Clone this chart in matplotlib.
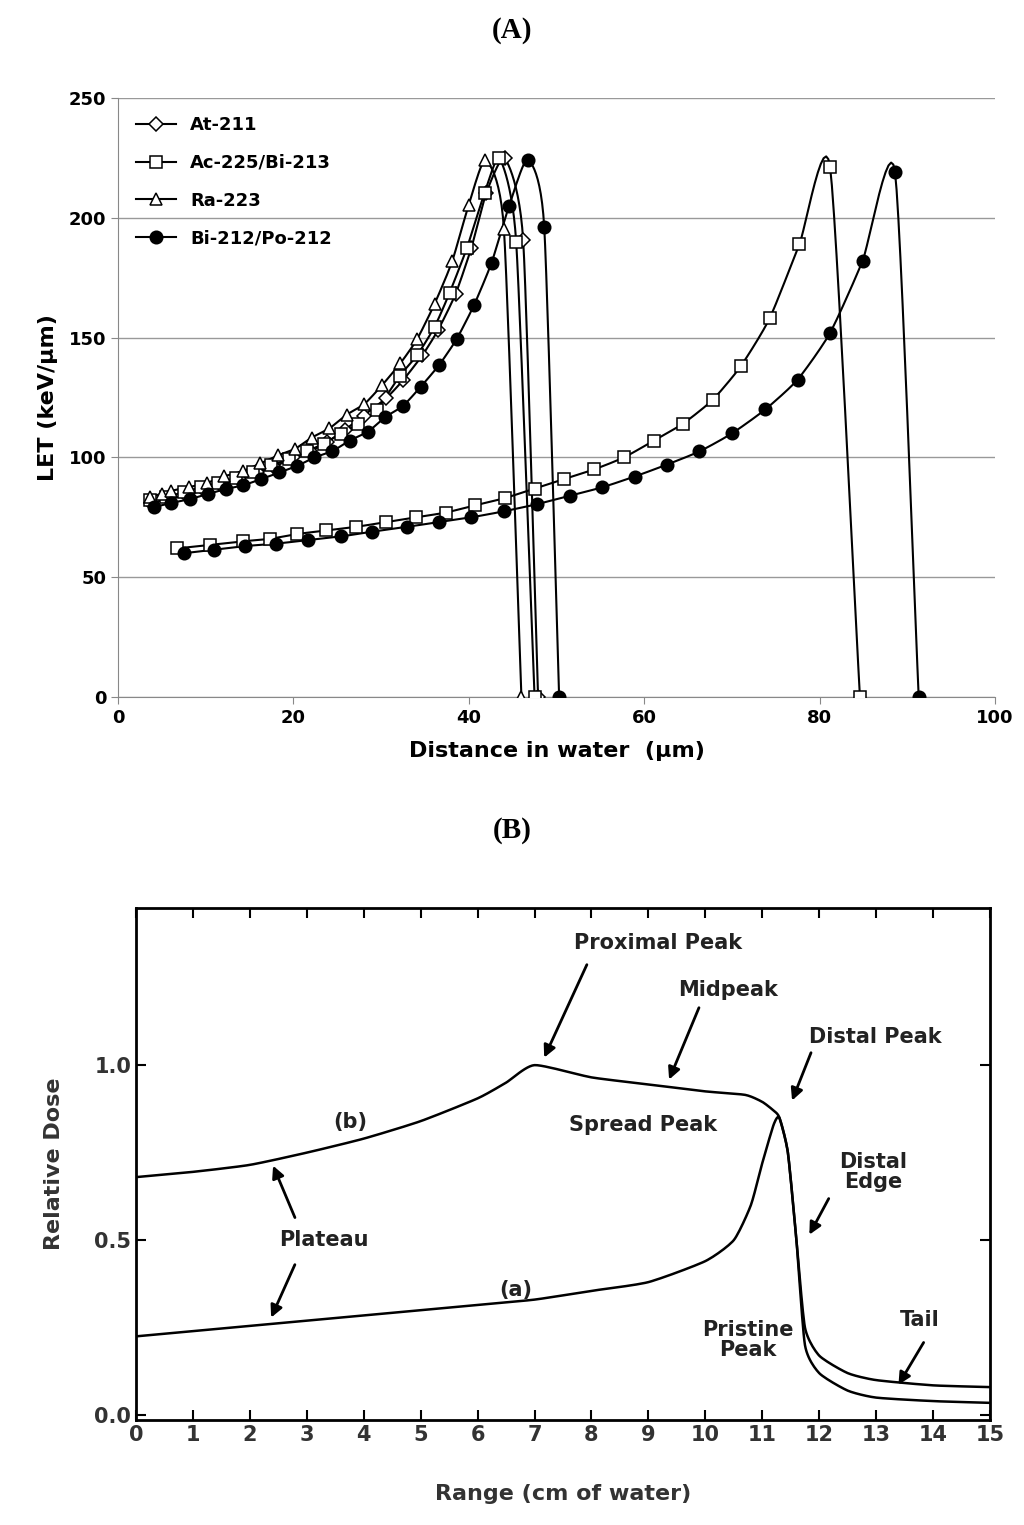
import matplotlib.pyplot as plt
import numpy as np

# ---- panel A data: LET vs distance ----
at_x = [3.8, 5.8, 7.8, 9.8, 11.7, 13.8, 15.8, 17.8, 19.9, 21.9, 23.8, 25.9, 28.0, 30.6, 32.5, 34.7, 36.5, 38.5, 40.3, 42.0, 44.1, 46.2, 47.9]
at_y = [81, 82.6, 84.3, 86.4, 88.4, 90.9, 93.7, 95.9, 100, 102.5, 106.3, 111.6, 117.4, 124.8, 132.2, 142.6, 153.2, 168.3, 187.6, 210.4, 224.8, 190.6, 0]

ac_x = [3.6, 5.5, 7.5, 9.5, 11.4, 13.4, 15.4, 17.5, 19.5, 21.5, 23.5, 25.4, 27.4, 29.5, 32.1, 34.1, 36.1, 37.8, 39.8, 41.8, 43.5, 45.4, 47.5]
ac_y = [82.1, 83.5, 85.5, 87.6, 89.3, 91.4, 93.7, 96.7, 99.2, 102.5, 105.8, 109.9, 114, 119.8, 133.9, 142.6, 154.5, 168.6, 187.6, 210.4, 224.8, 190.1, 0]
ac_long_x = [6.7, 10.5, 14.3, 17.3, 20.4, 23.7, 27.1, 30.6, 34.0, 37.4, 40.7, 44.1, 47.5, 50.9, 54.3, 57.7, 61.1, 64.4, 67.8, 71.0, 74.3, 77.7, 81.2, 84.6]
ac_long_y = [62, 63.5, 65, 66, 68, 69.5, 71, 73, 75, 77, 80, 83, 87, 91, 95, 100, 107, 114, 124, 138, 158, 189, 221, 0]

ra_x = [3.6, 5.0, 6.0, 8.1, 10.1, 12.1, 14.2, 16.2, 18.2, 20.2, 22.1, 24.1, 26.1, 28.1, 30.1, 32.2, 34.1, 36.1, 38.1, 40.0, 41.9, 44.0, 46.0]
ra_y = [83.5, 84.8, 86, 87.6, 89.3, 92.1, 94.2, 97.5, 100.8, 103.6, 108.3, 112.1, 117.9, 122.3, 130.1, 139.3, 149.3, 164.1, 181.8, 205.5, 224, 195.5, 0]

bi_x = [4.1, 6.1, 8.2, 10.3, 12.3, 14.3, 16.3, 18.4, 20.4, 22.4, 24.4, 26.4, 28.5, 30.5, 32.5, 34.5, 36.6, 38.6, 40.6, 42.6, 44.6, 46.7, 48.6, 50.3]
bi_y = [79.3, 81, 82.6, 84.8, 86.8, 88.4, 90.9, 93.7, 96.4, 100, 102.5, 107, 110.7, 116.9, 121.5, 129.4, 138.5, 149.3, 163.6, 181.3, 205, 224.3, 196.2, 0]
bi_long_x = [7.5, 11, 14.5, 18, 21.7, 25.4, 29, 32.9, 36.6, 40.3, 44, 47.8, 51.5, 55.2, 58.9, 62.6, 66.3, 70, 73.8, 77.5, 81.2, 84.9, 88.6, 91.3]
bi_long_y = [60, 61.5, 63, 64, 65.5, 67, 69, 71, 73, 75, 77.5, 80.5, 84, 87.5, 92, 97, 102.5, 110, 120, 132.5, 152, 182, 219, 0]

# ---- panel B data: relative dose vs range ----
b_x = [0, 1, 2, 3, 4, 5, 6, 6.5, 7, 8, 9, 10, 10.7, 11, 11.2, 11.3, 11.45, 11.6, 11.75, 12, 12.5, 13, 14, 15]
b_y = [0.68, 0.695, 0.715, 0.75, 0.79, 0.84, 0.905, 0.95, 1.0, 0.965, 0.945, 0.925, 0.915, 0.895, 0.87, 0.85, 0.75, 0.5, 0.25, 0.17, 0.12, 0.10, 0.085, 0.08]
a_x = [0, 1, 2, 3, 4, 5, 6, 7, 8, 9, 10, 10.5, 10.8, 11, 11.2, 11.3, 11.45, 11.6, 11.75, 12, 12.5, 13, 14, 15]
a_y = [0.225, 0.24, 0.255, 0.27, 0.285, 0.3, 0.315, 0.33, 0.355, 0.38, 0.44, 0.5, 0.6, 0.72, 0.83, 0.85, 0.75, 0.5, 0.2, 0.12, 0.07, 0.05, 0.04, 0.035]


def smooth(x, y, n=12, tension=0.6):
    # cardinal spline through the points, like excel's smoothed line
    x = np.asarray(x, float); y = np.asarray(y, float)
    px = np.concatenate([[2*x[0]-x[1]], x, [2*x[-1]-x[-2]]])
    py = np.concatenate([[2*y[0]-y[1]], y, [2*y[-1]-y[-2]]])
    xs, ys = [], []
    t = np.linspace(0, 1, n, endpoint=False)
    h00 = 2*t**3 - 3*t**2 + 1; h10 = t**3 - 2*t**2 + t
    h01 = -2*t**3 + 3*t**2; h11 = t**3 - t**2
    for i in range(1, len(px)-2):
        for p, out in ((px, xs), (py, ys)):
            m1 = tension*(p[i+1]-p[i-1])/2
            m2 = tension*(p[i+2]-p[i])/2
            out.extend(h00*p[i] + h10*m1 + h01*p[i+1] + h11*m2)
    xs.append(x[-1]); ys.append(y[-1])
    return xs, ys


fig = plt.figure(figsize=(10.24, 15.25), dpi=100)
fig.text(0.5, 1-30/1525, '(A)', ha='center', va='center', fontsize=21, fontweight='bold', family='Liberation Serif')
fig.text(0.5, 1-830/1525, '(B)', ha='center', va='center', fontsize=21, fontweight='bold', family='Liberation Serif')

# panel A
ax = fig.add_axes([118/1024, 1-697/1525, 877/1024, 599/1525])
series = [
    ('At-211', [(at_x, at_y)], 'D', 'white', 7),
    ('Ac-225/Bi-213', [(ac_x, ac_y), (ac_long_x, ac_long_y)], 's', 'white', 8.5),
    ('Ra-223', [(ra_x, ra_y)], '^', 'white', 8.5),
    ('Bi-212/Po-212', [(bi_x, bi_y), (bi_long_x, bi_long_y)], 'o', 'black', 9),
]
for name, parts, mk, fc, ms in series:
    for x, y in parts:
        sx, sy = smooth(x, y)
        ax.plot(sx, sy, color='black', lw=1.5, zorder=2)
        ax.plot(x, y, ls='none', marker=mk, ms=ms, mfc=fc, mec='black', mew=1.1, zorder=3)
    ax.plot([], [], color='black', lw=1.5, marker=mk, ms=ms, mfc=fc, mec='black', mew=1.1, label=name)
ax.set_xlim(0, 100)
ax.set_ylim(0, 250)
ax.set_xticks(range(0, 101, 20))
ax.set_yticks(range(0, 251, 50))
ax.yaxis.grid(True, color='#999999', lw=1)
ax.set_axisbelow(True)
for s in ['top', 'right']:
    ax.spines[s].set_visible(False)
ax.spines['left'].set_color('#888888')
ax.spines['bottom'].set_color('#888888')
ax.tick_params(labelsize=13, length=5, color='#888888')
for lab in ax.get_xticklabels() + ax.get_yticklabels():
    lab.set_fontweight('bold')
ax.set_xlabel('Distance in water  (µm)', fontsize=16, fontweight='bold', labelpad=10)
ax.set_ylabel('LET (keV/µm)', fontsize=16, fontweight='bold', labelpad=8)
ax.legend(loc='upper left', frameon=False, handlelength=2.2, labelspacing=1.1,
          borderaxespad=0.6, prop={'weight': 'bold', 'size': 13})

# panel B
bx = fig.add_axes([136/1024, 1-1420/1525, 854/1024, 512/1525])
for x, y in [(b_x, b_y), (a_x, a_y)]:
    sx, sy = smooth(x, y)
    bx.plot(sx, sy, color='black', lw=1.8)
bx.set_xlim(0, 15)
bx.set_ylim(-0.014, 1.449)
bx.set_xticks(range(0, 16))
bx.set_yticks([0.0, 0.5, 1.0])
bx.set_yticklabels(['0.0', '0.5', '1.0'])
for s in bx.spines.values():
    s.set_linewidth(2)
bx.tick_params(direction='in', top=True, right=True, length=7, width=1.5, labelsize=15)
for lab in bx.get_xticklabels() + bx.get_yticklabels():
    lab.set_fontweight('bold'); lab.set_color('#333333')
bx.set_xlabel('Range (cm of water)', fontsize=16, fontweight='bold', color='#333333', labelpad=28)
bx.set_ylabel('Relative Dose', fontsize=16, fontweight='bold', color='#333333', labelpad=22)


def d(px, py):
    return ((px-136)/56.93, (1415-py)/350)


tk = dict(fontsize=15, fontweight='bold', color='#222222', ha='center', va='center')
ar = dict(arrowstyle='-|>', color='black', lw=2, mutation_scale=18)
bx.text(*d(658, 943), 'Proximal Peak', **tk)
bx.annotate('', xy=d(543, 1060), xytext=d(588, 962), arrowprops=ar)
bx.annotate('', xy=d(668, 1082), xytext=d(700, 1005), arrowprops=ar)
bx.text(*d(728, 990), 'Midpeak', **tk)
bx.text(*d(875, 1037), 'Distal Peak', **tk)
bx.annotate('', xy=d(791, 1103), xytext=d(812, 1050), arrowprops=ar)
bx.text(*d(643, 1125), 'Spread Peak', **tk)
bx.text(*d(350, 1122), '(b)', **tk)
bx.text(*d(324, 1240), 'Plateau', **tk)
bx.annotate('', xy=d(272, 1163), xytext=d(296, 1220), arrowprops=ar)
bx.annotate('', xy=d(270, 1320), xytext=d(296, 1262), arrowprops=ar)
bx.text(*d(873, 1172), 'Distal\nEdge', linespacing=1.0, **tk)
bx.annotate('', xy=d(808, 1237), xytext=d(830, 1196), arrowprops=ar)
bx.text(*d(516, 1290), '(a)', **tk)
bx.text(*d(748, 1340), 'Pristine\nPeak', linespacing=1.0, **tk)
bx.text(*d(920, 1320), 'Tail', **tk)
bx.annotate('', xy=d(897, 1387), xytext=d(925, 1340), arrowprops=ar)

fig.savefig('out.png', dpi=100)
